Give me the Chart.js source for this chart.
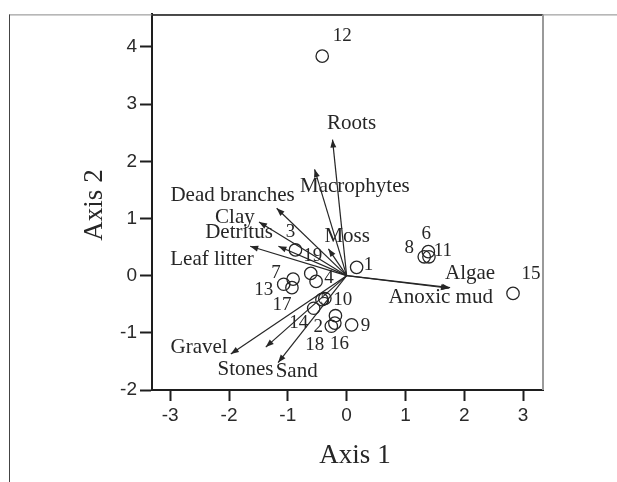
<!DOCTYPE html>
<html>
<head>
<meta charset="utf-8">
<script src="https://cdn.jsdelivr.net/npm/chart.js@4/dist/chart.umd.min.js"></script>
<style>
  html, body { margin: 0; padding: 0; background: #fff; }
  #wrap { width: 617px; height: 482px; }
</style>
</head>
<body>
<div id="wrap"><canvas id="chart" width="617" height="482"></canvas></div>
<script>
/* ===== DATA ===== */
const siteIds = ['1','2','3','4','5','6','7','8','9','10','11','12','13','14','15','16','17','18','19'];
const siteX   = [0.17, -0.26, -0.87, -0.52, -0.42, 1.39, -0.91, 1.32, 0.085, -0.37, 1.40, -0.415, -1.07, -0.56, 2.83, -0.19, -0.93, -0.20, -0.61];
const siteY   = [0.145, -0.885, 0.45, -0.10, -0.42, 0.42, -0.06, 0.33, -0.86, -0.40, 0.33, 3.84, -0.15, -0.57, -0.31, -0.70, -0.21, -0.83, 0.04];

const vectorNames = ['Roots','Macrophytes','Dead branches','Clay','Detritus','Leaf litter','Moss','Algae','Anoxic mud','Gravel','Stones','Sand'];
const vectorX     = [-0.24, -0.545, -1.19, -1.49, -1.16, -1.64, -0.31, 1.76, 1.74, -1.97, -1.375, -1.165];
const vectorY     = [2.38, 1.86, 1.18, 0.94, 0.515, 0.515, 0.47, -0.21, -0.22, -1.37, -1.25, -1.52];

const xTicks = [-3, -2, -1, 0, 1, 2, 3];
const yTicks = [-2, -1, 0, 1, 2, 3, 4];

/* ===== LAYOUT (label placement only) ===== */
// pixel offsets of the site numbers from their circles
const siteLabelOffset = [[12,-2],[-13,1],[-5,-18],[13,-3],[3,0],[-2,-18],[-17,-6],[-15,-9],[14,1],[18,1],
                         [14,-6],[20,-20],[-20,6],[-15,15],[18,-19],[4,28],[-10,17],[-20,22],[2,-17]];
// centre of each vector name, in axis units
const vectorLabelAt = [[0.085,2.66],[0.14,1.56],[-1.94,1.41],[-1.90,1.02],[-1.83,0.75],[-2.29,0.28],
                       [0.01,0.69],[2.10,0.04],[1.60,-0.39],[-2.51,-1.26],[-1.72,-1.64],[-0.85,-1.68]];

const INK   = '#262626';
const SERIF = '"Liberation Serif", "DejaVu Serif", serif';
const SANS  = '"Liberation Sans", Arial, sans-serif';

const arrowSets = vectorNames.map((name, i) => ({
  label: name,
  type: 'line',
  data: [{ x: 0, y: 0 }, { x: vectorX[i], y: vectorY[i] }],
  borderColor: INK,
  borderWidth: 1.2,
  pointRadius: 0,
  fill: false,
  isArrow: true
}));

const siteSet = {
  label: 'Sites',
  data: siteX.map((x, i) => ({ x: x, y: siteY[i] })),
  pointStyle: 'circle',
  pointRadius: 6.2,
  pointBorderWidth: 1.3,
  borderColor: INK,
  backgroundColor: 'rgba(0,0,0,0)',
  showLine: false
};

/* ===== PLUGINS ===== */
const biplotExtras = {
  id: 'biplotExtras',
  afterDatasetsDraw(chart) {
    const ctx = chart.ctx;
    const xs = chart.scales.x, ys = chart.scales.y;
    ctx.save();
    // arrow heads
    chart.data.datasets.forEach((ds, di) => {
      if (!ds.isArrow) return;
      const pts = chart.getDatasetMeta(di).data;
      const a = pts[0], b = pts[1];
      const ang = Math.atan2(b.y - a.y, b.x - a.x);
      const len = 8, half = 3;
      ctx.fillStyle = INK;
      ctx.beginPath();
      ctx.moveTo(b.x, b.y);
      ctx.lineTo(b.x - len * Math.cos(ang) + half * Math.sin(ang), b.y - len * Math.sin(ang) - half * Math.cos(ang));
      ctx.lineTo(b.x - len * Math.cos(ang) - half * Math.sin(ang), b.y - len * Math.sin(ang) + half * Math.cos(ang));
      ctx.closePath();
      ctx.fill();
    });
    // vector names
    ctx.fillStyle = INK;
    ctx.font = '21px ' + SERIF;
    ctx.textAlign = 'center';
    ctx.textBaseline = 'middle';
    vectorNames.forEach((name, i) => {
      ctx.fillText(name, xs.getPixelForValue(vectorLabelAt[i][0]), ys.getPixelForValue(vectorLabelAt[i][1]));
    });
    // site numbers
    ctx.font = '19px ' + SERIF;
    siteIds.forEach((id, i) => {
      ctx.fillText(id, xs.getPixelForValue(siteX[i]) + siteLabelOffset[i][0],
                       ys.getPixelForValue(siteY[i]) + siteLabelOffset[i][1]);
    });
    ctx.restore();
  },
  afterDraw(chart) {
    const ctx = chart.ctx;
    const ca = chart.chartArea;
    ctx.save();
    // outer figure frame
    ctx.strokeStyle = '#8a8a8a';
    ctx.lineWidth = 1;
    ctx.beginPath();
    ctx.moveTo(9.5, ca.top + 0.5); ctx.lineTo(617, ca.top + 0.5);
    ctx.stroke();
    ctx.strokeStyle = '#444';
    ctx.beginPath();
    ctx.moveTo(9.5, 482); ctx.lineTo(9.5, ca.top);
    ctx.stroke();
    // top of plot box
    ctx.strokeStyle = '#222';
    ctx.lineWidth = 1.5;
    ctx.beginPath();
    ctx.moveTo(ca.left, ca.top + 0.5); ctx.lineTo(ca.right, ca.top + 0.5);
    ctx.stroke();
    // right of plot box
    ctx.strokeStyle = '#9a9a9a';
    ctx.lineWidth = 2;
    ctx.beginPath();
    ctx.moveTo(ca.right, ca.top); ctx.lineTo(ca.right, ca.bottom);
    ctx.stroke();
    // axis titles
    ctx.fillStyle = INK;
    ctx.font = '27px ' + SERIF;
    ctx.textAlign = 'center';
    ctx.textBaseline = 'middle';
    ctx.fillText('Axis 1', 355, 456);
    ctx.translate(95, 205);
    ctx.rotate(-Math.PI / 2);
    ctx.fillText('Axis 2', 0, 0);
    ctx.restore();
  }
};

/* ===== CHART ===== */
new Chart(document.getElementById('chart'), {
  type: 'scatter',
  data: { datasets: [...arrowSets, siteSet] },
  options: {
    responsive: false,
    animation: false,
    layout: { padding: { left: 0, top: 11, right: 74, bottom: 0 } },
    plugins: { legend: { display: false }, tooltip: { enabled: false } },
    scales: {
      x: {
        type: 'linear',
        min: -3.31, max: 3.34,
        afterBuildTicks: s => { s.ticks = xTicks.map(v => ({ value: v })); },
        afterFit: s => { s.height = 92; },
        border: { display: true, color: '#1e1e1e', width: 2 },
        grid: { drawOnChartArea: false, drawTicks: true, tickLength: 11, tickColor: '#1e1e1e', tickWidth: 2 },
        ticks: { color: '#2a2a2a', padding: 3, maxRotation: 0, autoSkip: false, font: { family: SANS, size: 19 } }
      },
      y: {
        type: 'linear',
        min: -2, max: 4.57,
        afterBuildTicks: s => { s.ticks = yTicks.map(v => ({ value: v })); },
        afterFit: s => { s.width = 152; },
        border: { display: true, color: '#1e1e1e', width: 2 },
        grid: { drawOnChartArea: false, drawTicks: true, tickLength: 12, tickColor: '#1e1e1e', tickWidth: 2 },
        ticks: { color: '#2a2a2a', padding: 3, autoSkip: false, font: { family: SANS, size: 19 } }
      }
    }
  },
  plugins: [biplotExtras]
});
</script>
</body>
</html>
